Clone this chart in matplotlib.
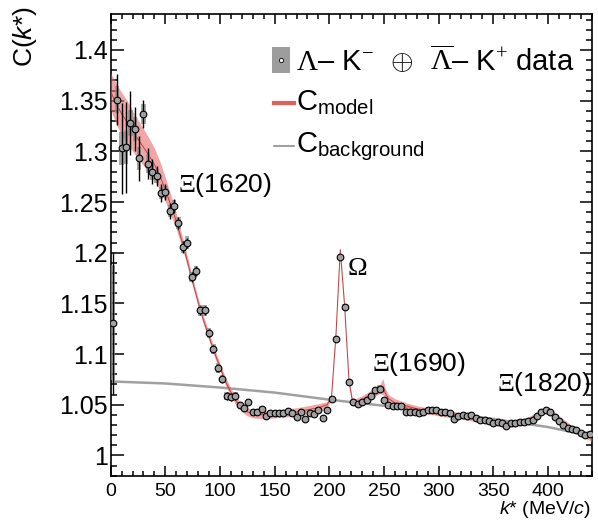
import numpy as np
import matplotlib
matplotlib.use("Agg")
import matplotlib.pyplot as plt
from matplotlib.patches import Rectangle
from matplotlib.ticker import MultipleLocator

plt.rcParams['font.family'] = 'Liberation Sans'
plt.rcParams['mathtext.fontset'] = 'custom'
plt.rcParams['mathtext.rm'] = 'Liberation Serif'
plt.rcParams['mathtext.it'] = 'Liberation Sans:italic'
plt.rcParams['mathtext.sf'] = 'Liberation Sans'

# data points (bin centres in MeV/c)
k_data = [2, 6, 10, 14, 18, 22, 26, 30, 34, 38, 42, 46, 50, 54, 58, 62, 66, 70, 74, 78,
          82, 86, 90, 94, 98, 102, 106, 110, 114, 118, 122, 126, 130, 134, 138, 142, 146, 150, 154, 158,
          162, 166, 170, 174, 178, 182, 186, 190, 194, 198, 202, 206, 210, 214, 218, 222, 226, 230, 234, 238,
          242, 246, 250, 254, 258, 262, 266, 270, 274, 278, 282, 286, 290, 294, 298, 302, 306, 310, 314, 318,
          322, 326, 330, 334, 338, 342, 346, 350, 354, 358, 362, 366, 370, 374, 378, 382, 386, 390, 394, 398,
          402, 406, 410, 414, 418, 422, 426, 430, 434, 438]
c_data = [1.131, 1.351, 1.303, 1.304, 1.328, 1.322, 1.293, 1.337, 1.288, 1.280, 1.276, 1.259, 1.260, 1.241, 1.246, 1.229, 1.206, 1.210, 1.176, 1.182,
          1.143, 1.143, 1.121, 1.105, 1.086, 1.075, 1.059, 1.058, 1.059, 1.050, 1.047, 1.053, 1.043, 1.043, 1.046, 1.039, 1.042, 1.042, 1.042, 1.042,
          1.044, 1.042, 1.038, 1.043, 1.036, 1.042, 1.041, 1.045, 1.037, 1.045, 1.056, 1.115, 1.196, 1.146, 1.072, 1.053, 1.051, 1.053, 1.055, 1.059,
          1.065, 1.066, 1.055, 1.050, 1.049, 1.049, 1.049, 1.043, 1.043, 1.043, 1.042, 1.043, 1.045, 1.045, 1.045, 1.043, 1.043, 1.042, 1.036, 1.039,
          1.040, 1.039, 1.040, 1.037, 1.035, 1.035, 1.034, 1.032, 1.033, 1.032, 1.029, 1.032, 1.032, 1.033, 1.033, 1.034, 1.035, 1.039, 1.043, 1.045,
          1.043, 1.038, 1.034, 1.030, 1.027, 1.026, 1.025, 1.022, 1.020, 1.021]
stat_err = [0.070, 0.025, 0.045, 0.045, 0.032, 0.022, 0.022, 0.014, 0.015, 0.012, 0.010, 0.009, 0.008, 0.008, 0.007, 0.006, 0.006, 0.005, 0.005, 0.005,
            0.004, 0.004, 0.004, 0.004, 0.004, 0.004, 0.004, 0.004, 0.004, 0.003, 0.003, 0.003, 0.003, 0.003, 0.003, 0.003, 0.003, 0.003, 0.002, 0.002,
            0.002, 0.002, 0.002, 0.002, 0.002, 0.002, 0.002, 0.002, 0.002, 0.002, 0.002, 0.002, 0.002, 0.002, 0.002, 0.002, 0.002, 0.002, 0.002, 0.002,
            0.002, 0.002, 0.002, 0.002, 0.002, 0.002, 0.002, 0.002, 0.002, 0.002, 0.002, 0.002, 0.002, 0.002, 0.002, 0.002, 0.002, 0.002, 0.002, 0.002,
            0.002, 0.002, 0.002, 0.002, 0.002, 0.002, 0.002, 0.002, 0.002, 0.002, 0.002, 0.002, 0.002, 0.002, 0.002, 0.002, 0.002, 0.002, 0.002, 0.002,
            0.002, 0.002, 0.002, 0.002, 0.002, 0.002, 0.002, 0.002, 0.002, 0.002]
sys_err = [0.057, 0.013, 0.016, 0.016, 0.013, 0.012, 0.011, 0.010, 0.009, 0.008, 0.007, 0.006, 0.006, 0.006, 0.006, 0.006, 0.006, 0.006, 0.005, 0.005,
           0.005, 0.005, 0.005, 0.005, 0.005, 0.004, 0.004, 0.004, 0.004, 0.003, 0.003, 0.003, 0.003, 0.003, 0.003, 0.003, 0.003, 0.003, 0.003, 0.003,
           0.003, 0.003, 0.003, 0.003, 0.003, 0.003, 0.003, 0.003, 0.003, 0.003, 0.003, 0.003, 0.003, 0.003, 0.003, 0.003, 0.003, 0.003, 0.003, 0.003,
           0.003, 0.003, 0.003, 0.003, 0.003, 0.003, 0.003, 0.003, 0.003, 0.003, 0.003, 0.003, 0.003, 0.003, 0.003, 0.003, 0.003, 0.003, 0.003, 0.003,
           0.003, 0.003, 0.003, 0.003, 0.003, 0.003, 0.003, 0.003, 0.003, 0.003, 0.003, 0.003, 0.003, 0.003, 0.003, 0.003, 0.003, 0.003, 0.003, 0.003,
           0.003, 0.003, 0.003, 0.003, 0.003, 0.003, 0.003, 0.003, 0.003, 0.003]

# model curve (centre and half width of the band)
k_model = [0, 5, 10, 15, 20, 25, 30, 35, 40, 45, 50, 55, 60, 65, 70, 75, 80, 85, 90, 95,
           100, 105, 110, 115, 120, 125, 130, 140, 150, 160, 170, 180, 190, 198, 202, 206, 210, 214, 218, 221,
           224, 230, 238, 246, 249, 251, 254, 260, 270, 280, 290, 300, 320, 340, 360, 370, 380, 390, 397, 403,
           410, 420, 430, 440]
c_model = [1.359, 1.347, 1.337, 1.329, 1.320, 1.312, 1.304, 1.296, 1.287, 1.276, 1.262, 1.247, 1.231, 1.212, 1.192, 1.171, 1.151, 1.133, 1.117, 1.101,
           1.087, 1.073, 1.062, 1.053, 1.047, 1.043, 1.041, 1.040, 1.041, 1.042, 1.043, 1.045, 1.047, 1.050, 1.058, 1.118, 1.203, 1.147, 1.073, 1.054,
           1.052, 1.055, 1.060, 1.065, 1.068, 1.062, 1.056, 1.052, 1.049, 1.046, 1.044, 1.042, 1.039, 1.035, 1.031, 1.031, 1.034, 1.040, 1.045, 1.043,
           1.036, 1.028, 1.022, 1.017]
w_model = [0.018, 0.020, 0.021, 0.021, 0.020, 0.019, 0.018, 0.017, 0.016, 0.014, 0.012, 0.010, 0.008, 0.006, 0.005, 0.004, 0.004, 0.004, 0.004, 0.004,
           0.004, 0.004, 0.004, 0.004, 0.004, 0.004, 0.004, 0.004, 0.004, 0.004, 0.004, 0.004, 0.004, 0.003, 0.002, 0.002, 0.002, 0.002, 0.002, 0.003,
           0.004, 0.004, 0.004, 0.004, 0.008, 0.005, 0.004, 0.004, 0.003, 0.003, 0.003, 0.003, 0.003, 0.003, 0.003, 0.003, 0.003, 0.003, 0.003, 0.003,
           0.003, 0.003, 0.003, 0.003]

# background
k_bkg = [0, 50, 100, 150, 200, 250, 300, 350, 400, 440]
c_bkg = [1.073, 1.071, 1.067, 1.062, 1.055, 1.049, 1.043, 1.036, 1.028, 1.019]

fig = plt.figure(figsize=(5.98, 5.2), dpi=100)
ax = fig.add_axes([110.7 / 598, 44.3 / 520, 481 / 598, 461.7 / 520])

k_model = np.array(k_model)
c_model = np.array(c_model)
w_model = np.array(w_model)

ax.plot(k_bkg, c_bkg, color="#a0a0a0", lw=1.8, zorder=2)
ax.fill_between(k_model, c_model - w_model, c_model + w_model, color="#e8696b", alpha=0.6, lw=0, zorder=3)
ax.plot(k_model, c_model, color="#b84040", lw=0.7, zorder=4)

k_arr = np.array(k_data)
c_arr = np.array(c_data)
s_arr = np.array(sys_err)
ax.bar(k_arr, 2 * s_arr, bottom=c_arr - s_arr, width=4, color="#8c8c8c", alpha=0.75, lw=0, zorder=5)
ax.errorbar(k_arr, c_arr, yerr=stat_err, fmt="o", ms=4.8, mfc="#a0a0a0", mec="black", mew=0.8,
            ecolor="black", elinewidth=1.0, capsize=0, zorder=6)

ax.set_xlim(0, 440)
ax.set_ylim(0.98, 1.4355)
ax.xaxis.set_major_locator(MultipleLocator(50))
ax.xaxis.set_minor_locator(MultipleLocator(10))
ax.yaxis.set_major_locator(MultipleLocator(0.05))
ax.yaxis.set_minor_locator(MultipleLocator(0.01))
ax.yaxis.set_major_formatter(matplotlib.ticker.FuncFormatter(lambda v, p: ("%.2f" % v).rstrip("0").rstrip(".")))
ax.tick_params(which="both", direction="in", top=True, right=True, width=1.1)
ax.tick_params(axis="x", which="major", length=7, labelsize=14, pad=5)
ax.tick_params(axis="x", which="minor", length=3.5)
ax.tick_params(axis="y", which="major", length=9, labelsize=18, pad=2)
ax.tick_params(axis="y", which="minor", length=4.5)
for sp in ax.spines.values():
    sp.set_linewidth(1.2)

fig.text(25 / 598, 1 - 6 / 520, "C($k$*)", rotation=90, ha="center", va="top", fontsize=19)
fig.text(591 / 598, 1 - 510 / 520, "$k$* (MeV/$c$)", ha="right", va="center", fontsize=14)

ax.text(61.5, 1.267, r"$\Xi$(1620)", fontsize=19, va="center")
ax.text(216, 1.185, r"$\Omega$", fontsize=19, va="center")
ax.text(239, 1.090, r"$\Xi$(1690)", fontsize=19, va="center")
ax.text(353, 1.070, r"$\Xi$(1820)", fontsize=19, va="center")

# legend
ax.add_patch(Rectangle((0.335, 0.873), 0.037, 0.056, transform=ax.transAxes, color="#8c8c8c", alpha=0.85, lw=0))
ax.plot([0.3535], [0.901], "o", ms=3, mfc="white", mec="black", mew=0.6, transform=ax.transAxes)
ax.text(0.385, 0.901, r"$\Lambda$– K$^{-}$ $\,\oplus\,$ $\overline{\Lambda}$– K$^{+}$ data", transform=ax.transAxes,
        fontsize=21, va="center")
ax.plot([0.34, 0.381], [0.807, 0.807], color="#e06060", lw=3, transform=ax.transAxes)
ax.text(0.385, 0.792, r"C$_{\mathsf{model}}$", transform=ax.transAxes, fontsize=21, va="baseline")
ax.plot([0.34, 0.381], [0.714, 0.714], color="#8c8c8c", lw=1.2, transform=ax.transAxes)
ax.text(0.385, 0.700, r"C$_{\mathsf{background}}$", transform=ax.transAxes, fontsize=21, va="baseline")

plt.savefig("out.png", dpi=100)
